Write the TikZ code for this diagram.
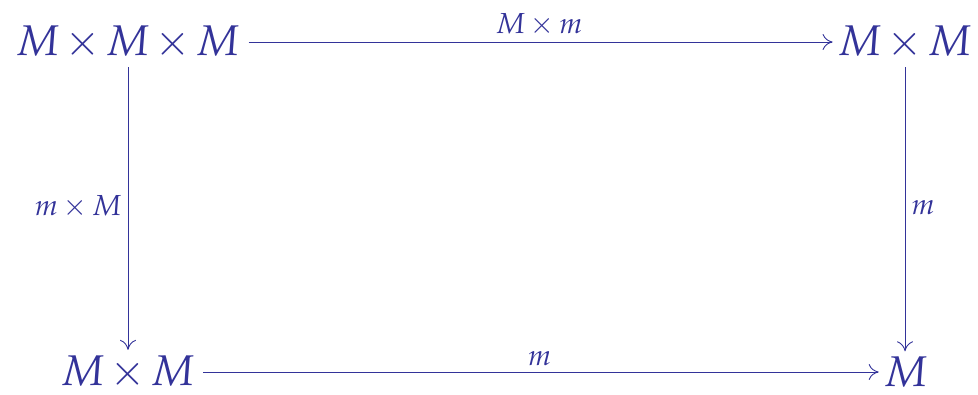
\documentclass[tikz,border=0pt]{standalone}
\usepackage{mathpazo}
\usetikzlibrary{arrows.meta}
\definecolor{dblue}{RGB}{51,51,153}
\begin{document}
\begin{tikzpicture}[x=0.5pt,y=-0.5pt,
  obj/.style={text=dblue,inner sep=0pt,font=\fontsize{21.5}{26}\selectfont,execute at begin node={\medmuskip=2.2mu\relax}},
  lbl/.style={text=dblue,font=\fontsize{14.5}{18}\selectfont,execute at begin node={\medmuskip=3mu\relax}},
  arr/.style={draw=dblue,line width=0.45pt,-{Computer Modern Rightarrow[length=5pt,width=8pt]},shorten >=2.5pt,shorten <=4pt}]
\useasboundingbox (0,0) rectangle (978,395);
\node[obj] (a) at (128,42) {$M\times M\times M$};
\node[obj] (b) at (905,42) {$M\times M$};
\node[obj] (c) at (128,372) {$M\times M$};
\node[obj] (d) at (906,372) {$M$};
\draw[arr] (a) -- node[lbl,above,inner sep=3pt] (la) {$M\times m$} (b);
\draw[arr] (a.south) coordinate (as) -- node[lbl,left,inner sep=3pt] (lc) {$m\times M$} (as |- c.north);
\draw[arr] (b.south) coordinate (bs) -- node[lbl,right,inner sep=3pt] (lb) {$m$} (bs |- d.north);
\draw[arr] (c) -- node[lbl,above,inner sep=3pt] (ld) {$m$} (d);
\end{tikzpicture}
\end{document}
